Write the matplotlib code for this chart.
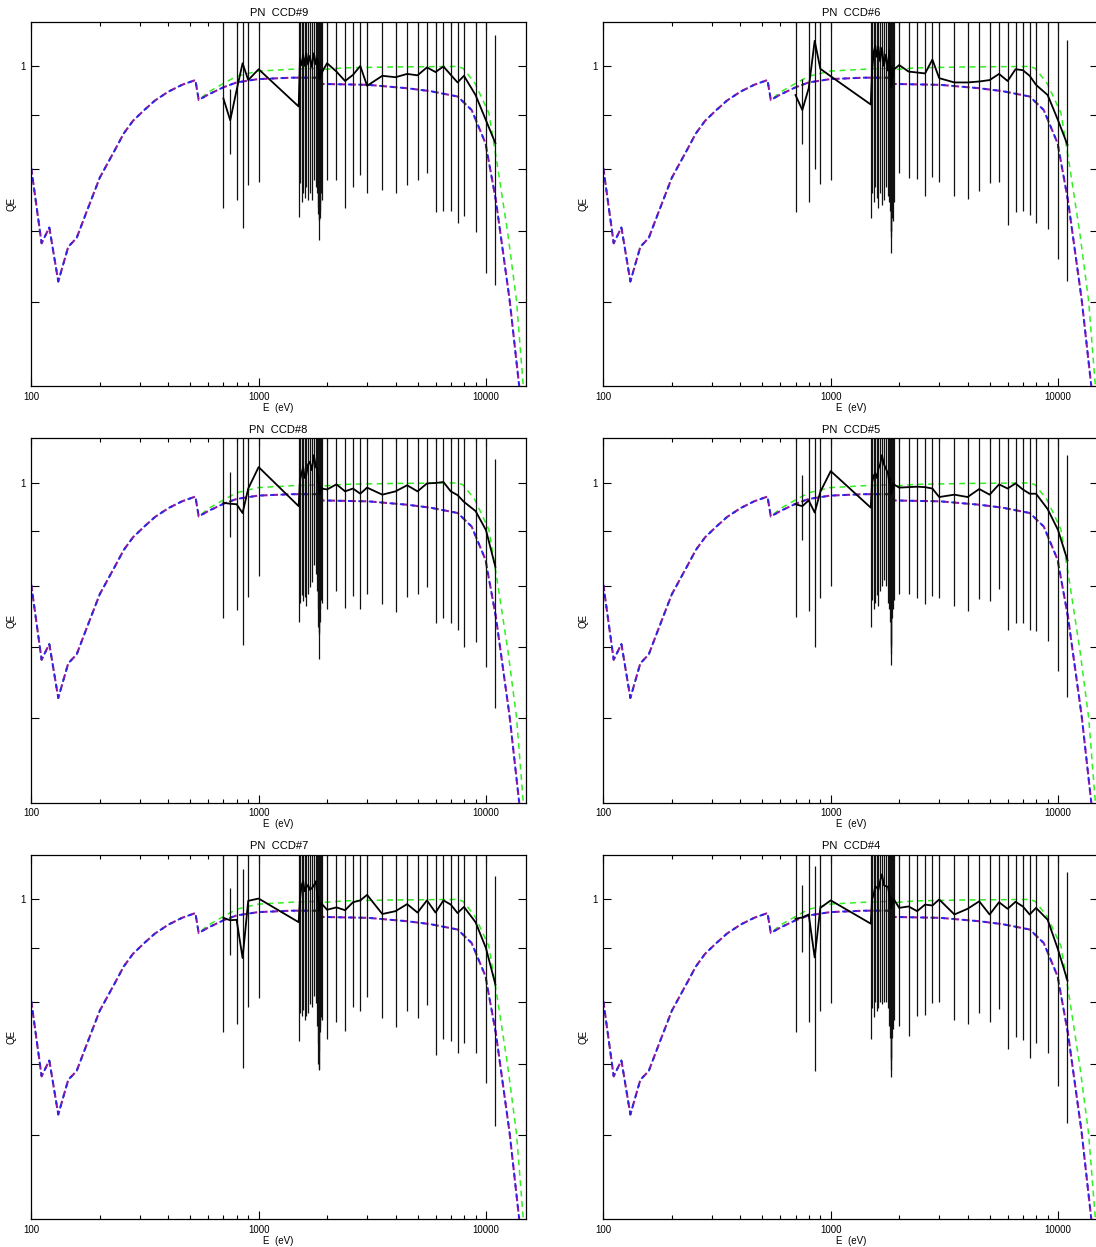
import matplotlib
matplotlib.use("Agg")
import matplotlib.pyplot as plt
from matplotlib.ticker import FixedLocator, NullFormatter, FixedFormatter

# ---- model curves (same in every panel) ----
model_e = [100, 111, 120, 131.4, 145.4, 158.3, 175, 200, 237, 255, 280, 314, 350, 401, 460, 527,
           545, 600, 701, 800, 994, 1400, 1830, 1845, 3034, 4500, 5690, 7516, 8650, 9950, 11050,
           12700, 14000, 15000]
model_qe = [0.801, 0.681, 0.705, 0.627, 0.676, 0.689, 0.729, 0.785, 0.839, 0.864, 0.888, 0.909, 0.928,
            0.946, 0.960, 0.970, 0.929, 0.940, 0.955, 0.965, 0.972, 0.975, 0.975, 0.962, 0.960, 0.953,
            0.947, 0.936, 0.909, 0.846, 0.748, 0.603, 0.500, 0.420]
green_e = [100, 111, 120, 131.4, 145.4, 158.3, 175, 200, 237, 255, 280, 314, 350, 401, 460, 527,
           545, 600, 701, 800, 994, 1400, 1830, 1845, 1870, 2377, 4000, 7516, 7925, 8950, 10300,
           11250, 12470, 13620, 14590, 15500]
green_qe = [0.801, 0.681, 0.705, 0.627, 0.676, 0.689, 0.729, 0.785, 0.839, 0.864, 0.888, 0.909, 0.928,
            0.946, 0.960, 0.970, 0.929, 0.945, 0.963, 0.978, 0.989, 0.993, 0.995, 0.986, 0.992, 0.996,
            0.998, 0.999, 0.995, 0.963, 0.903, 0.804, 0.696, 0.602, 0.500, 0.430]

# ---- measured points ----
e_main = [700, 750, 800, 850, 900, 1000, 1500, 2000, 2200, 2400, 2600, 2800, 3000, 3500, 4000,
          4500, 5000, 5500, 6000, 6500, 7000, 7500, 8000, 9000, 10000, 11000]
e_edge = [1520, 1545, 1570, 1595, 1620, 1650, 1680, 1715, 1750, 1785, 1810, 1822, 1832, 1838,
          1843, 1848, 1855, 1862, 1870, 1880, 1892]

ccd9_qe = [0.932, 0.889, 0.949, 1.006, 0.970, 0.993, 0.916, 1.006, 0.988, 0.968, 0.981, 1.000, 0.958,
           0.979, 0.976, 0.983, 0.980, 0.997, 0.987, 0.999, 0.981, 0.965, 0.979, 0.939, 0.889, 0.846]
ccd9_lo = [0.735, 0.826, 0.748, 0.704, 0.773, 0.777, 0.721, 0.781, 0.781, 0.736, 0.770, 0.790, 0.760,
           0.764, 0.759, 0.773, 0.781, 0.793, 0.729, 0.731, 0.730, 0.712, 0.723, 0.698, 0.638, 0.622]
ccd9_edge_qe = [1.015, 1.002, 1.025, 1.000, 1.028, 1.003, 1.022, 0.998, 1.028, 1.004, 1.016, 0.995,
                1.008, 0.986, 0.975, 0.992, 0.972, 0.988, 0.978, 0.992, 0.985]
ccd9_edge_lo = [0.776, 0.745, 0.760, 0.752, 0.770, 0.748, 0.760, 0.748, 0.781, 0.770, 0.760, 0.737,
                0.725, 0.716, 0.686, 0.716, 0.730, 0.745, 0.720, 0.760, 0.748]

ccd6_qe = [0.939, 0.909, 0.953, 1.056, 0.994, 0.978, 0.920, 1.002, 0.988, 0.986, 0.984, 1.014, 0.974,
           0.965, 0.965, 0.967, 0.970, 0.983, 0.968, 0.993, 0.991, 0.979, 0.960, 0.939, 0.889, 0.843]
ccd6_lo = [0.729, 0.845, 0.745, 0.800, 0.774, 0.782, 0.719, 0.793, 0.784, 0.783, 0.754, 0.787, 0.778,
           0.754, 0.749, 0.762, 0.776, 0.777, 0.709, 0.729, 0.731, 0.724, 0.711, 0.702, 0.658, 0.628]
ccd6_edge_qe = [0.990, 1.030, 1.045, 1.020, 1.043, 1.010, 1.040, 1.000, 1.025, 0.990, 1.035, 0.985,
                1.000, 0.965, 0.955, 0.980, 0.960, 0.985, 0.975, 0.995, 0.992]
ccd6_edge_lo = [0.760, 0.745, 0.770, 0.752, 0.735, 0.760, 0.740, 0.748, 0.770, 0.755, 0.745, 0.730,
                0.700, 0.690, 0.667, 0.700, 0.720, 0.735, 0.715, 0.760, 0.745]

ccd8_qe = [0.957, 0.955, 0.954, 0.936, 0.987, 1.034, 0.950, 0.985, 0.996, 0.981, 0.987, 0.976, 0.989,
           0.974, 0.981, 0.994, 0.981, 0.998, 0.999, 1.001, 0.981, 0.973, 0.959, 0.940, 0.902, 0.833]
ccd8_lo = [0.745, 0.888, 0.758, 0.703, 0.780, 0.816, 0.739, 0.761, 0.791, 0.762, 0.782, 0.760, 0.786,
           0.768, 0.756, 0.781, 0.785, 0.797, 0.737, 0.745, 0.737, 0.726, 0.701, 0.708, 0.670, 0.613]
ccd8_edge_qe = [1.005, 1.020, 1.034, 1.010, 1.016, 1.040, 1.046, 1.027, 1.061, 1.034, 1.030, 1.000,
                1.015, 0.990, 0.985, 0.998, 0.975, 0.990, 0.980, 0.990, 0.987]
ccd8_edge_lo = [0.770, 0.784, 0.773, 0.781, 0.766, 0.786, 0.798, 0.806, 0.836, 0.820, 0.790, 0.760,
                0.732, 0.724, 0.683, 0.720, 0.740, 0.773, 0.760, 0.775, 0.770]

ccd5_qe = [0.954, 0.950, 0.962, 0.937, 0.980, 1.025, 0.947, 0.989, 0.990, 0.991, 0.990, 0.987, 0.969,
           0.974, 0.969, 0.986, 0.974, 0.996, 0.987, 0.998, 0.985, 0.976, 0.976, 0.944, 0.902, 0.845]
ccd5_lo = [0.747, 0.883, 0.757, 0.701, 0.779, 0.800, 0.732, 0.786, 0.786, 0.778, 0.768, 0.782, 0.778,
           0.766, 0.757, 0.777, 0.774, 0.794, 0.727, 0.737, 0.737, 0.727, 0.725, 0.710, 0.665, 0.629]
ccd5_edge_qe = [1.000, 1.015, 1.020, 1.010, 1.030, 1.040, 1.061, 1.040, 1.030, 1.020, 1.000, 1.010,
                0.995, 0.990, 0.975, 0.990, 0.980, 0.995, 0.985, 0.998, 0.996]
ccd5_edge_lo = [0.775, 0.760, 0.770, 0.783, 0.765, 0.790, 0.800, 0.810, 0.800, 0.770, 0.760, 0.740,
                0.700, 0.690, 0.673, 0.705, 0.745, 0.770, 0.760, 0.780, 0.775]

ccd7_qe = [0.960, 0.955, 0.956, 0.880, 0.996, 1.001, 0.951, 0.977, 0.982, 0.976, 0.993, 0.997, 1.009,
           0.968, 0.974, 0.989, 0.971, 0.997, 0.971, 0.997, 0.988, 0.970, 0.983, 0.951, 0.899, 0.831]
ccd7_lo = [0.749, 0.886, 0.762, 0.693, 0.791, 0.807, 0.735, 0.739, 0.766, 0.752, 0.791, 0.784, 0.809,
           0.773, 0.758, 0.784, 0.772, 0.794, 0.714, 0.739, 0.736, 0.717, 0.732, 0.717, 0.671, 0.612]
ccd7_edge_qe = [1.000, 1.030, 1.039, 1.017, 1.025, 1.031, 1.020, 1.024, 1.030, 1.039, 1.010, 0.995,
                1.005, 0.985, 0.975, 0.990, 0.980, 0.990, 0.985, 0.992, 0.990]
ccd7_edge_lo = [0.782, 0.776, 0.786, 0.770, 0.776, 0.782, 0.796, 0.792, 0.810, 0.798, 0.760, 0.730,
                0.700, 0.690, 0.692, 0.720, 0.750, 0.770, 0.760, 0.775, 0.770]

ccd4_qe = [0.958, 0.961, 0.967, 0.881, 0.981, 0.997, 0.948, 0.981, 0.984, 0.974, 0.988, 0.986, 0.999,
           0.967, 0.979, 0.995, 0.967, 0.993, 0.979, 0.994, 0.984, 0.967, 0.981, 0.956, 0.896, 0.838]
ccd4_lo = [0.749, 0.891, 0.766, 0.689, 0.784, 0.798, 0.739, 0.760, 0.744, 0.776, 0.777, 0.799, 0.800,
           0.770, 0.763, 0.782, 0.766, 0.788, 0.722, 0.742, 0.737, 0.708, 0.732, 0.717, 0.667, 0.616]
ccd4_edge_qe = [1.000, 1.010, 1.028, 1.025, 1.020, 1.040, 1.055, 1.030, 1.028, 1.027, 1.010, 0.998,
                1.005, 0.990, 0.980, 0.992, 0.985, 0.995, 0.990, 0.998, 1.000]
ccd4_edge_lo = [0.790, 0.775, 0.800, 0.785, 0.790, 0.800, 0.797, 0.800, 0.800, 0.790, 0.760, 0.740,
                0.705, 0.690, 0.680, 0.710, 0.740, 0.760, 0.755, 0.775, 0.770]

panels = [
    ("PN  CCD#9", ccd9_qe, ccd9_lo, ccd9_edge_qe, ccd9_edge_lo),
    ("PN  CCD#6", ccd6_qe, ccd6_lo, ccd6_edge_qe, ccd6_edge_lo),
    ("PN  CCD#8", ccd8_qe, ccd8_lo, ccd8_edge_qe, ccd8_edge_lo),
    ("PN  CCD#5", ccd5_qe, ccd5_lo, ccd5_edge_qe, ccd5_edge_lo),
    ("PN  CCD#7", ccd7_qe, ccd7_lo, ccd7_edge_qe, ccd7_edge_lo),
    ("PN  CCD#4", ccd4_qe, ccd4_lo, ccd4_edge_qe, ccd4_edge_lo),
]

plt.rcParams['lines.scale_dashes'] = False
plt.rcParams['font.family'] = ['Liberation Sans', 'DejaVu Sans']

W, H = 1096, 1247
fig = plt.figure(figsize=(W / 100, H / 100), dpi=100)

col_left = [31.3, 603.4]
row_top = [22, 438.5, 855]
ax_w, ax_h = 494.7, 364

for i, (title, qe, lo, eqe, elo) in enumerate(panels):
    r, c = i // 2, i % 2
    ax = fig.add_axes([col_left[c] / W, 1 - (row_top[r] + ax_h) / H, ax_w / W, ax_h / H])

    # model curves
    ax.plot(green_e, green_qe, color='#33ee22', lw=1.1, linestyle=(0.6, (4.2, 3.3)))
    ax.plot(model_e, model_qe, color='#8c18a8', lw=1.5, linestyle=(0, (4.5, 3.0)))
    ax.plot(model_e, model_qe, color='#2a22ee', lw=1.3, linestyle=(1.2, (3.0, 4.5)))

    # measured points, in energy order
    pts = sorted(zip(e_main + e_edge, qe + eqe, lo + elo))
    ee = [p[0] for p in pts]
    qq = [p[1] for p in pts]
    err = [p[1] - p[2] for p in pts]
    ax.errorbar(ee, qq, yerr=err, fmt='none', ecolor='#111111', elinewidth=0.9, capsize=0)
    ax.plot(ee, qq, color='black', lw=1.3)

    ax.set_xscale('log')
    ax.set_yscale('log')
    ax.set_xlim(100, 15000)
    ax.set_ylim(0.5, 1.1)

    ax.xaxis.set_major_locator(FixedLocator([100, 1000, 10000]))
    ax.xaxis.set_major_formatter(FixedFormatter(['100', '1000', '10000']))
    ax.xaxis.set_minor_locator(FixedLocator([200, 300, 400, 500, 600, 700, 800, 900,
                                             2000, 3000, 4000, 5000, 6000, 7000, 8000, 9000]))
    ax.xaxis.set_minor_formatter(NullFormatter())
    ax.yaxis.set_major_locator(FixedLocator([0.6, 0.7, 0.8, 0.9, 1.0]))
    ax.yaxis.set_major_formatter(FixedFormatter(['', '', '', '', '1']))
    ax.yaxis.set_minor_locator(FixedLocator([]))
    ax.yaxis.set_minor_formatter(NullFormatter())

    ax.tick_params(which='both', direction='in', top=True, right=True, width=0.8, labelsize=7, pad=4)
    ax.tick_params(which='major', length=6)
    ax.tick_params(which='minor', length=3)
    for s in ax.spines.values():
        s.set_linewidth(0.9)

    ax.set_title(title, fontsize=8, pad=4)
    ax.set_xlabel('E  (eV)', fontsize=7, labelpad=1)
    ax.set_ylabel('QE', fontsize=7, labelpad=3)

fig.savefig('out.png', dpi=100)
